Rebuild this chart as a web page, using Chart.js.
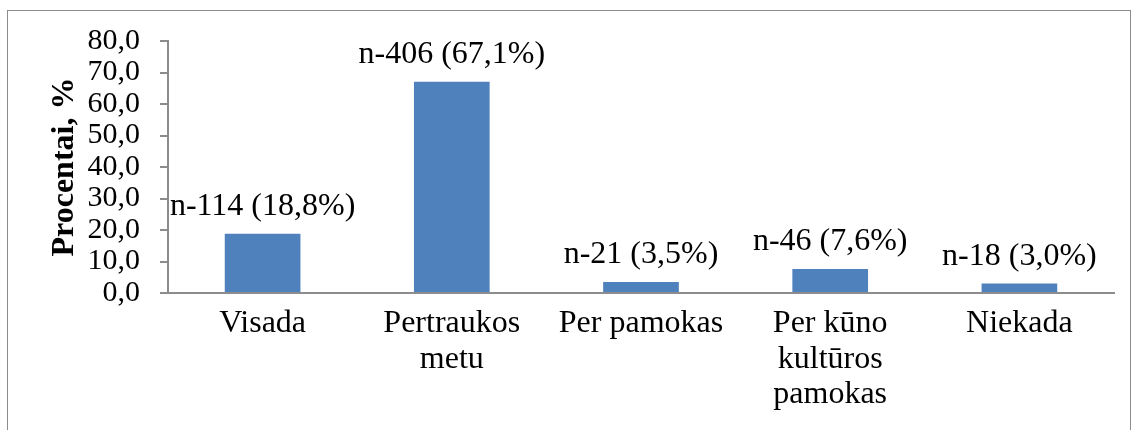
<!DOCTYPE html>
<html lang="lt">
<head>
  <meta charset="UTF-8" />
  <title>Procentai</title>
  <script src="https://cdn.jsdelivr.net/npm/chart.js"></script>
  <style>
    body { margin: 0; background: #fff; overflow: hidden; }
    #box { position: absolute; left: 7px; top: 10px; width: 1122px; height: 440px; border: 1px solid #8c8c8c; }
  </style>
</head>
<body>
<div id="box">
  <canvas id="chart" width="1122" height="419"></canvas>
</div>
<script>
const categories = ['Visada', ['Pertraukos', 'metu'], 'Per pamokas', ['Per kūno', 'kultūros', 'pamokas'], 'Niekada'];
const percents = [18.8, 67.1, 3.5, 7.6, 3.0];
const counts = [114, 406, 21, 46, 18];
const barLabels = counts.map((n, i) => 'n-' + n + ' (' + percents[i].toFixed(1).replace('.', ',') + '%)');

const serif = '"Liberation Serif", "Times New Roman", serif';

// labels over the bars
const barLabelPlugin = {
  id: 'barLabels',
  afterDatasetsDraw(chart) {
    const ctx = chart.ctx;
    const meta = chart.getDatasetMeta(0);
    ctx.save();
    ctx.font = '32px ' + serif;
    ctx.fillStyle = '#000';
    ctx.textAlign = 'center';
    ctx.textBaseline = 'alphabetic';
    meta.data.forEach((bar, i) => {
      ctx.fillText(barLabels[i], bar.x, bar.y - 19);
    });
    ctx.restore();
  }
};

new Chart(document.getElementById('chart'), {
  type: 'bar',
  data: {
    labels: categories,
    datasets: [{
      data: percents,
      backgroundColor: '#4F81BD',
      borderWidth: 0,
      barPercentage: 0.4,
      categoryPercentage: 1
    }]
  },
  plugins: [barLabelPlugin],
  options: {
    responsive: false,
    animation: false,
    layout: { padding: { top: 30, right: 16, left: 38, bottom: 0 } },
    plugins: { legend: { display: false }, tooltip: { enabled: false } },
    scales: {
      x: {
        grid: { display: false, drawTicks: false },
        border: { color: '#8c8c8c', width: 2 },
        ticks: {
          color: '#000',
          font: { family: serif, size: 32, lineHeight: 1.11 },
          padding: 13,
          maxRotation: 0,
          autoSkip: false
        },
        afterFit(axis) { axis.height = 137; }
      },
      y: {
        min: 0,
        max: 80,
        ticks: {
          stepSize: 10,
          autoSkip: false,
          color: '#000',
          padding: 20,
          font: { family: serif, size: 30, lineHeight: 1 },
          callback: v => v.toFixed(1).replace('.', ',')
        },
        grid: { drawOnChartArea: false, color: '#8c8c8c', tickLength: 8, lineWidth: 2 },
        border: { color: '#8c8c8c', width: 2 },
        title: {
          display: true,
          text: 'Procentai, %',
          color: '#000',
          font: { family: serif, size: 32, weight: 'bold' },
          padding: 0
        },
        afterFit(axis) {
          axis.width = 122;
          axis.paddingTop = 0;
          axis.paddingBottom = 0;
        }
      }
    }
  }
});
</script>
</body>
</html>
